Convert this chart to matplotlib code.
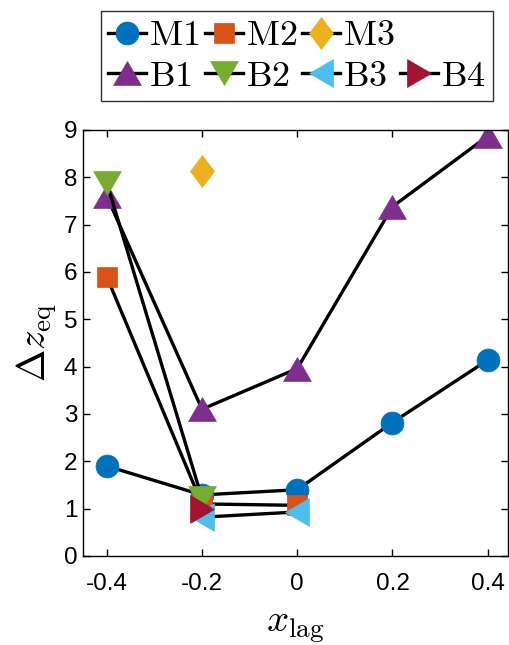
import matplotlib
matplotlib.use('Agg')
import matplotlib.pyplot as plt
from matplotlib.lines import Line2D

plt.rcParams['mathtext.fontset'] = 'cm'
plt.rcParams['font.family'] = ['Liberation Sans', 'DejaVu Sans']

# lag offsets and equilibrium shifts per case
x_m1 = [-0.4, -0.2, 0.0, 0.2, 0.4]
m1 = [1.90, 1.29, 1.40, 2.82, 4.14]
x_m2 = [-0.4, -0.2, 0.0]
m2 = [5.90, 1.10, 1.07]
x_m3 = [-0.2]
m3 = [8.14]
x_b1 = [-0.4, -0.2, 0.0, 0.2, 0.4]
b1 = [7.60, 3.10, 3.96, 7.38, 8.87]
x_b2 = [-0.4, -0.2]
b2 = [7.89, 1.22]
x_b3 = [-0.2, 0.0]
b3 = [0.82, 0.93]
x_b4 = [-0.2]
b4 = [1.00]

xticks = [-0.4, -0.2, 0, 0.2, 0.4]
xtick_labels = ['-0.4', '-0.2', '0', '0.2', '0.4']
yticks = list(range(10))

# matlab default colour order
colors = ['#0072BD', '#D95319', '#EDB120', '#7E2F8E', '#77AC30', '#4DBEEE', '#A2142F']

diamond = [(0, 1), (0.75, 0), (0, -1), (-0.75, 0), (0, 1)]
tri_up = [(-1, -0.86), (1, -0.86), (0, 0.86), (-1, -0.86)]
tri_down = [(-1, 0.86), (1, 0.86), (0, -0.86), (-1, 0.86)]
tri_left = [(0.86, -1), (0.86, 1), (-0.86, 0), (0.86, -1)]
tri_right = [(-0.86, -1), (-0.86, 1), (0.86, 0), (-0.86, -1)]

series = [
    (x_m1, m1, 'M1', 'o', 16.5),
    (x_m2, m2, 'M2', 's', 14.5),
    (x_m3, m3, 'M3', diamond, 23),
    (x_b1, b1, 'B1', tri_up, 20),
    (x_b2, b2, 'B2', tri_down, 20),
    (x_b3, b3, 'B3', tri_left, 20),
    (x_b4, b4, 'B4', tri_right, 20),
]

fig = plt.figure(figsize=(5.1, 6.45), dpi=100)
ax = fig.add_axes([0.1622, 0.138, 0.834, 0.6605])

handles = {}
for (xs, ys, name, mk, ms), c in zip(series, colors):
    h, = ax.plot(xs, ys, color='black', linewidth=2.4, marker=mk, markersize=ms,
                 markerfacecolor=c, markeredgecolor=c, markeredgewidth=0.5,
                 label=r'$\mathrm{%s}$' % name)
    handles[name] = h

ax.set_xlim(-0.4504, 0.4427)
ax.set_ylim(0, 9)
ax.set_xticks(xticks)
ax.set_xticklabels(xtick_labels)
ax.set_yticks(yticks)
ax.tick_params(direction='in', length=5, width=1, top=True, right=True, labelsize=17.5)
ax.tick_params(axis='x', pad=12)
ax.tick_params(axis='y', pad=4)
for sp in ax.spines.values():
    sp.set_linewidth(1)

ax.set_xlabel(r'$x_{\mathrm{lag}}$', fontsize=28, labelpad=10)
ax.set_ylabel(r'$\Delta z_{\mathrm{eq}}$', fontsize=28, labelpad=3)

# two rows: M1-M3 on top, B1-B4 below (legend fills column by column)
blank = Line2D([], [], linestyle='none', marker='none')
order = [handles['M1'], handles['B1'], handles['M2'], handles['B2'],
         handles['M3'], handles['B3'], blank, handles['B4']]
labels = [h.get_label() if h is not blank else '' for h in order]
leg = fig.legend(order, labels, ncol=4, loc='upper center',
                 bbox_to_anchor=(297 / 510, 1 - 11 / 645), fontsize=26,
                 numpoints=1, handlelength=1.05, handletextpad=0.08,
                 columnspacing=0.15, labelspacing=0.15, borderpad=0.2,
                 borderaxespad=0, fancybox=False, framealpha=1)
leg.get_frame().set_edgecolor('#333333')
leg.get_frame().set_linewidth(1)

fig.savefig('out.png', dpi=100)
